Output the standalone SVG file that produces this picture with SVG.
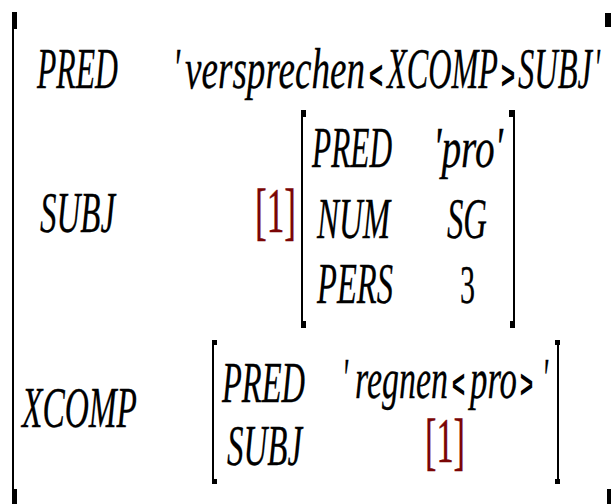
<svg xmlns="http://www.w3.org/2000/svg" width="611" height="504" viewBox="0 0 611 504">
<style>
.t{font-family:"Liberation Serif","DejaVu Serif",serif;font-style:italic;font-size:58px;fill:#000;stroke:#000;stroke-width:0.3}
.u{font-family:"Liberation Serif","DejaVu Serif",serif;font-size:54px;fill:#000;stroke:#000;stroke-width:0.3}
.op{font-family:"Liberation Sans","DejaVu Sans",sans-serif;font-weight:bold;font-size:40px;fill:#000}
.tag{font-family:"Liberation Serif","DejaVu Serif",serif;font-size:64px;fill:#7a0505;stroke:#7a0505;stroke-width:0.4}
.br{stroke:#000;stroke-width:2;fill:none}
.tk{fill:#000}
</style>
<rect width="611" height="504" fill="#fff"/>
<g id="outer">
<line class="br" x1="13" y1="12" x2="13" y2="504"/>
<rect class="tk" x="12" y="12" width="5" height="17"/>
<rect class="tk" x="12" y="489" width="5" height="15"/>
<rect class="tk" x="605" y="13" width="6" height="14"/>
<rect class="tk" x="607" y="489" width="4" height="15"/>
<text class="t" x="37" y="88" textLength="81" lengthAdjust="spacingAndGlyphs">PRED</text>
<text class="t" x="173" y="88" textLength="7" lengthAdjust="spacingAndGlyphs">'</text>
<text class="t" x="185" y="88" textLength="180" lengthAdjust="spacingAndGlyphs">versprechen</text>
<text class="op" x="369" y="89" textLength="14" lengthAdjust="spacingAndGlyphs">&lt;</text>
<text class="t" x="387" y="88" textLength="111" lengthAdjust="spacingAndGlyphs">XCOMP</text>
<text class="op" x="501" y="89" textLength="14" lengthAdjust="spacingAndGlyphs">&gt;</text>
<text class="t" x="518" y="88" textLength="74" lengthAdjust="spacingAndGlyphs">SUBJ</text>
<text class="t" x="594" y="88" textLength="6" lengthAdjust="spacingAndGlyphs">'</text>
<text class="t" x="40" y="232" textLength="75" lengthAdjust="spacingAndGlyphs">SUBJ</text>
<text class="tag" x="255" y="232" textLength="41" lengthAdjust="spacingAndGlyphs">[1]</text>
<text class="t" x="22" y="427" textLength="115" lengthAdjust="spacingAndGlyphs">XCOMP</text>
</g>
<g id="subj">
<line class="br" x1="302" y1="110" x2="302" y2="328"/>
<rect class="tk" x="301" y="110" width="5" height="7"/>
<rect class="tk" x="301" y="321" width="5" height="7"/>
<line class="br" x1="514" y1="110" x2="514" y2="328"/>
<rect class="tk" x="509" y="110" width="6" height="7"/>
<rect class="tk" x="510" y="321" width="5" height="7"/>
<text class="t" x="312" y="167" textLength="80" lengthAdjust="spacingAndGlyphs">PRED</text>
<text class="t" x="433" y="167" textLength="70" lengthAdjust="spacingAndGlyphs">'pro'</text>
<text class="t" x="317" y="238" textLength="73" lengthAdjust="spacingAndGlyphs">NUM</text>
<text class="t" x="447" y="238" textLength="40" lengthAdjust="spacingAndGlyphs">SG</text>
<text class="t" x="317" y="303" textLength="76" lengthAdjust="spacingAndGlyphs">PERS</text>
<text class="u" x="460" y="303" textLength="15" lengthAdjust="spacingAndGlyphs">3</text>
</g>
<g id="xcomp">
<line class="br" x1="213" y1="340" x2="213" y2="484"/>
<rect class="tk" x="212" y="340" width="5" height="5"/>
<rect class="tk" x="212" y="479" width="5" height="5"/>
<line class="br" x1="558" y1="340" x2="558" y2="484"/>
<rect class="tk" x="555" y="340" width="5" height="5"/>
<rect class="tk" x="555" y="479" width="5" height="5"/>
<text class="t" x="222" y="402" textLength="83" lengthAdjust="spacingAndGlyphs">PRED</text>
<text class="t" x="227" y="465" textLength="75" lengthAdjust="spacingAndGlyphs">SUBJ</text>
<text class="t" x="342" y="398" textLength="6" lengthAdjust="spacingAndGlyphs">'</text>
<text class="t" x="355" y="398" textLength="93" lengthAdjust="spacingAndGlyphs">regnen</text>
<text class="op" x="452" y="398" textLength="13" lengthAdjust="spacingAndGlyphs">&lt;</text>
<text class="t" x="470" y="398" textLength="47" lengthAdjust="spacingAndGlyphs">pro</text>
<text class="op" x="520" y="398" textLength="13" lengthAdjust="spacingAndGlyphs">&gt;</text>
<text class="t" x="542" y="398" textLength="6" lengthAdjust="spacingAndGlyphs">'</text>
<text class="tag" x="425" y="462" textLength="40" lengthAdjust="spacingAndGlyphs">[1]</text>
</g>
</svg>
